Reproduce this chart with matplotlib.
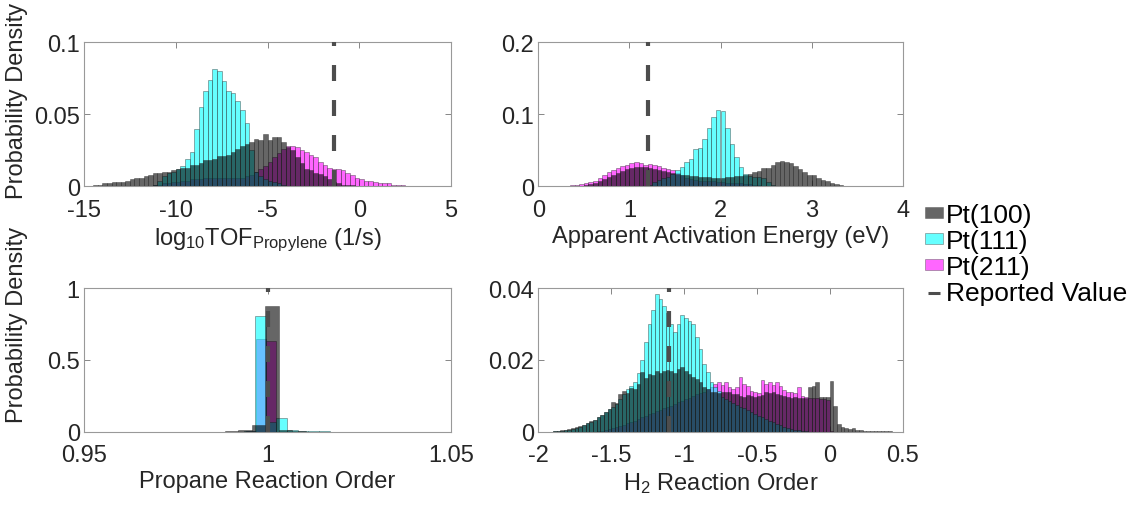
import numpy as np
import matplotlib
matplotlib.use("Agg")
import matplotlib.pyplot as plt
from matplotlib.patches import Patch
from matplotlib.lines import Line2D

# 字体
plt.rcParams["font.family"] = ["Liberation Sans", "DejaVu Sans"]
plt.rcParams["mathtext.fontset"] = "custom"
plt.rcParams["mathtext.rm"] = "Liberation Sans"
plt.rcParams["mathtext.default"] = "regular"
plt.rcParams["font.size"] = 17
plt.rcParams["lines.scale_dashes"] = False

labels = ["Pt(100)", "Pt(111)", "Pt(211)"]

# ---- log10 TOF (bin 0.25) ----
tof_width = 0.25
tof_pt100_start = -14.75
tof_pt100 = [0.0005, 0.001, 0.001, 0.002, 0.002, 0.003, 0.003, 0.003, 0.004, 0.005,
             0.006, 0.006, 0.007, 0.008, 0.009, 0.009, 0.010, 0.010, 0.011, 0.012,
             0.013, 0.013, 0.015, 0.015, 0.016, 0.018, 0.018, 0.019, 0.021, 0.021,
             0.022, 0.024, 0.026, 0.028, 0.029, 0.031, 0.033, 0.032, 0.036, 0.032,
             0.034, 0.034, 0.031, 0.027, 0.025, 0.020, 0.016, 0.012, 0.011, 0.0095,
             0.0087, 0.007, 0.005, 0.003, 0.002, 0.001, 0.0008, 0.0006, 0.0005, 0.0004,
             0.0003, 0.0003, 0.0002, 0.0002, 0.0002, 0.0001, 0.0001, 0.0001, 0.0001, 0.0001,
             0.0001, 0.0001, 0.0001, 0.0001]
tof_pt111_start = -11.25
tof_pt111 = [0.001, 0.004, 0.007, 0.009, 0.010, 0.012, 0.014, 0.019, 0.024, 0.040,
             0.055, 0.066, 0.074, 0.081, 0.080, 0.073, 0.066, 0.065, 0.059, 0.053,
             0.044, 0.025, 0.010, 0.007, 0.005, 0.004, 0.003, 0.002, 0.001]
tof_pt211_start = -11.25
tof_pt211 = [0.001, 0.001, 0.002, 0.002, 0.003, 0.003, 0.004, 0.004, 0.005, 0.005,
             0.005, 0.006, 0.006, 0.006, 0.006, 0.006, 0.006, 0.006, 0.006, 0.006,
             0.007, 0.008, 0.010, 0.012, 0.014, 0.017, 0.020, 0.023, 0.026, 0.028,
             0.028, 0.027, 0.025, 0.024, 0.022, 0.020, 0.017, 0.015, 0.013, 0.012,
             0.012, 0.011, 0.009, 0.008, 0.006, 0.005, 0.004, 0.004, 0.003, 0.002,
             0.002, 0.002, 0.001, 0.001, 0.001, 0.0005, 0.0003]
tof_reported = -1.4

# ---- Apparent activation energy (bin 0.05) ----
ea_width = 0.05
ea_pt100_start = 0.45
ea_pt100 = [0.001, 0.002, 0.003, 0.005, 0.007, 0.010, 0.013, 0.016, 0.019, 0.021,
            0.024, 0.026, 0.027, 0.027, 0.027, 0.026, 0.024, 0.023, 0.021, 0.020,
            0.018, 0.017, 0.016, 0.015, 0.014, 0.014, 0.013, 0.013, 0.013, 0.012,
            0.012, 0.012, 0.013, 0.013, 0.014, 0.014, 0.015, 0.017, 0.020, 0.021,
            0.025, 0.026, 0.030, 0.034, 0.035, 0.034, 0.032, 0.028, 0.024, 0.020,
            0.016, 0.015, 0.012, 0.009, 0.007, 0.005, 0.003, 0.002, 0.001, 0.001]
ea_pt111_start = 1.2
ea_pt111 = [0.002, 0.006, 0.009, 0.011, 0.013, 0.017, 0.022, 0.027, 0.033, 0.038,
            0.052, 0.053, 0.066, 0.081, 0.096, 0.106, 0.104, 0.081, 0.059, 0.041,
            0.027, 0.017, 0.014, 0.013, 0.013, 0.012, 0.006, 0.002, 0.001]
ea_pt211_start = 0.25
ea_pt211 = [0.0005, 0.001, 0.002, 0.002, 0.003, 0.004, 0.006, 0.008, 0.011, 0.015,
            0.020, 0.023, 0.026, 0.028, 0.030, 0.032, 0.033, 0.032, 0.030, 0.031,
            0.030, 0.028, 0.026, 0.024, 0.022, 0.018, 0.015, 0.012, 0.010, 0.009,
            0.008, 0.008, 0.007, 0.007, 0.006, 0.006, 0.005, 0.005, 0.004, 0.004,
            0.003, 0.003, 0.002, 0.002, 0.001]
ea_reported = 1.2

# ---- Propane reaction order (每个晶面的分箱不同) ----
c3_pt100_start, c3_pt100_width = 0.9883, 0.0037
c3_pt100 = [0.003, 0.010, 0.047, 0.879, 0.012, 0.002]
c3_pt111_start, c3_pt111_width = 0.9937, 0.0029
c3_pt111 = [0.004, 0.809, 0.070, 0.095, 0.012, 0.006, 0.003, 0.003, 0.001]
c3_pt211_start, c3_pt211_width = 0.9941, 0.0027
c3_pt211 = [0.005, 0.646, 0.635]
c3_reported = 1.0

# ---- H2 reaction order (bin 0.025) ----
h2_width = 0.025
h2_pt100_start = -1.9
h2_pt100 = [0.0002, 0.0003, 0.0004, 0.0005, 0.0007, 0.0009, 0.0012, 0.0015, 0.0019, 0.0023,
            0.0029, 0.0033, 0.0040, 0.0046, 0.0054, 0.0062, 0.0083, 0.0080, 0.0105, 0.0114,
            0.0108, 0.0123, 0.0118, 0.0132, 0.0166, 0.0150, 0.0160, 0.0158, 0.0170, 0.0163,
            0.0168, 0.0172, 0.0169, 0.0165, 0.0176, 0.0180, 0.0168, 0.0160, 0.0153, 0.0148,
            0.0140, 0.0125, 0.0118, 0.0112, 0.0110, 0.0108, 0.0112, 0.0110, 0.0111, 0.0104,
            0.0106, 0.0100, 0.0098, 0.0101, 0.0099, 0.0097, 0.0100, 0.0103, 0.0110, 0.0108,
            0.0110, 0.0104, 0.0102, 0.0099, 0.0097, 0.0095, 0.0096, 0.0094, 0.0095, 0.0093,
            0.0125, 0.0128, 0.0139, 0.0097, 0.0096, 0.0098, 0.0142, 0.0073, 0.0021, 0.0013,
            0.0010, 0.0008, 0.0009, 0.0006, 0.0004, 0.0003, 0.0003, 0.0002, 0.0002, 0.0001,
            0.0002, 0.0001, 0.0001]
h2_pt111_start = -1.9
h2_pt111 = [0.0001, 0.0002, 0.0003, 0.0004, 0.0006, 0.0008, 0.0011, 0.0014, 0.0018, 0.0023,
            0.0028, 0.0033, 0.0040, 0.0047, 0.0055, 0.0064, 0.0070, 0.0078, 0.0090, 0.0105,
            0.0118, 0.0128, 0.0140, 0.0165, 0.0200, 0.0250, 0.0300, 0.0340, 0.0384, 0.0370,
            0.0352, 0.0332, 0.0300, 0.0277, 0.0300, 0.0325, 0.0318, 0.0310, 0.0300, 0.0265,
            0.0230, 0.0190, 0.0166, 0.0140, 0.0125, 0.0114, 0.0098, 0.0092, 0.0086, 0.0080,
            0.0075, 0.0070, 0.0065, 0.0060, 0.0055, 0.0050, 0.0045, 0.0040, 0.0035, 0.0030,
            0.0026, 0.0022, 0.0018, 0.0014, 0.0011, 0.0008, 0.0006, 0.0004, 0.0003, 0.0002]
h2_pt211_start = -1.6
h2_pt211 = [0.0002, 0.0003, 0.0005, 0.0007, 0.0009, 0.0012, 0.0015, 0.0019, 0.0023, 0.0027,
            0.0031, 0.0035, 0.0040, 0.0044, 0.0048, 0.0053, 0.0057, 0.0061, 0.0065, 0.0069,
            0.0073, 0.0077, 0.0082, 0.0086, 0.0090, 0.0095, 0.0100, 0.0104, 0.0108, 0.0112,
            0.0118, 0.0124, 0.0133, 0.0138, 0.0130, 0.0139, 0.0125, 0.0120, 0.0124, 0.0152,
            0.0134, 0.0128, 0.0114, 0.0110, 0.0108, 0.0143, 0.0134, 0.0139, 0.0130, 0.0139,
            0.0128, 0.0116, 0.0112, 0.0110, 0.0108, 0.0124, 0.0100, 0.0098, 0.0095, 0.0094,
            0.0093, 0.0092, 0.0090, 0.0088, 0.0002]
h2_reported = -1.1

# 颜色 (MATLAB 风格, FaceAlpha=0.6)
face = {"Pt(100)": (0, 0, 0, 0.6), "Pt(111)": (0, 1, 1, 0.6), "Pt(211)": (1, 0, 1, 0.6)}
edge = (0.15, 0.15, 0.15, 0.6)
tick_color = (0.15, 0.15, 0.15)


def draw_hist(ax, start, width, heights, name, z):
    edges = start + width * np.arange(len(heights) + 1)
    ax.bar(edges[:-1], heights, width=width, align="edge",
           color=face[name], edgecolor=edge, linewidth=0.45, zorder=z)


def style_axes(ax, xlim, ylim, xticks, yticks, xlabel):
    ax.set_xlim(*xlim)
    ax.set_ylim(*ylim)
    ax.set_xticks(xticks)
    ax.set_yticks(yticks)
    ax.set_xticklabels([f"{t:g}" for t in xticks])
    ax.set_yticklabels([f"{t:g}" for t in yticks])
    ax.tick_params(direction="in", top=True, right=True, length=4, width=0.6,
                   color="0.45", labelcolor=tick_color, labelsize=17)
    ax.tick_params(axis="x", pad=9)
    ax.tick_params(axis="y", pad=3)
    for s in ax.spines.values():
        s.set_color("0.6")
        s.set_linewidth(0.8)
    ax.set_xlabel(xlabel, color=tick_color, fontsize=17)
    ax.xaxis.set_label_coords(0.5, -0.27)


def draw_reported(ax, x, ytop):
    ax.plot([x, x], [0, ytop], color="0.3", lw=3, dashes=(11.5, 13.7), zorder=6)


fig = plt.figure(figsize=(11.34, 5.06), dpi=100)
W, H = 1134, 506


def add_axes(x0, y0, x1, y1):
    return fig.add_axes([x0 / W, 1 - y1 / H, (x1 - x0) / W, (y1 - y0) / H])


ax1 = add_axes(84, 43, 451, 187.3)
ax2 = add_axes(538.3, 43, 902.7, 187.3)
ax3 = add_axes(84, 289.3, 451, 432.7)
ax4 = add_axes(538.3, 289.3, 902.7, 432.7)

# panel 1
draw_hist(ax1, tof_pt211_start, tof_width, tof_pt211, "Pt(211)", 2)
draw_hist(ax1, tof_pt111_start, tof_width, tof_pt111, "Pt(111)", 3)
draw_hist(ax1, tof_pt100_start, tof_width, tof_pt100, "Pt(100)", 4)
draw_reported(ax1, tof_reported, 0.1)
style_axes(ax1, (-15, 5), (0, 0.1), [-15, -10, -5, 0, 5], [0, 0.05, 0.1],
           r"log$_{10}$TOF$_{Propylene}$ (1/s)")

# panel 2
draw_hist(ax2, ea_pt211_start, ea_width, ea_pt211, "Pt(211)", 2)
draw_hist(ax2, ea_pt111_start, ea_width, ea_pt111, "Pt(111)", 3)
draw_hist(ax2, ea_pt100_start, ea_width, ea_pt100, "Pt(100)", 4)
draw_reported(ax2, ea_reported, 0.2)
style_axes(ax2, (0, 4), (0, 0.2), [0, 1, 2, 3, 4], [0, 0.1, 0.2],
           "Apparent Activation Energy (eV)")

# panel 3
draw_hist(ax3, c3_pt211_start, c3_pt211_width, c3_pt211, "Pt(211)", 2)
draw_hist(ax3, c3_pt111_start, c3_pt111_width, c3_pt111, "Pt(111)", 3)
draw_hist(ax3, c3_pt100_start, c3_pt100_width, c3_pt100, "Pt(100)", 4)
draw_reported(ax3, c3_reported, 1.0)
style_axes(ax3, (0.95, 1.05), (0, 1), [0.95, 1, 1.05], [0, 0.5, 1],
           "Propane Reaction Order")

# panel 4
draw_hist(ax4, h2_pt211_start, h2_width, h2_pt211, "Pt(211)", 2)
draw_hist(ax4, h2_pt111_start, h2_width, h2_pt111, "Pt(111)", 3)
draw_hist(ax4, h2_pt100_start, h2_width, h2_pt100, "Pt(100)", 4)
draw_reported(ax4, h2_reported, 0.04)
style_axes(ax4, (-2, 0.5), (0, 0.04), [-2, -1.5, -1, -0.5, 0, 0.5], [0, 0.02, 0.04],
           r"H$_2$ Reaction Order")

for ax, yc in [(ax1, 0.6), (ax3, 0.75)]:
    ax.set_ylabel("Probability Density", color=tick_color, fontsize=17)
    ax.yaxis.set_label_coords(-0.153, yc)

handles = [Patch(facecolor=face[n], edgecolor=(0.3, 0.3, 0.3, 0.6), linewidth=0.5) for n in labels]
handles.append(Line2D([], [], marker="_", markersize=8, markeredgewidth=2.2,
                      color="0.3", linestyle="none"))
fig.legend(handles, labels + ["Reported Value"], loc="upper left",
           bbox_to_anchor=(925 / W, 1 - 204 / H), frameon=False, fontsize=19,
           handlelength=0.7, handleheight=0.25, handletextpad=0.1,
           labelspacing=0.08, borderpad=0, borderaxespad=0)

fig.savefig("out.png", dpi=100)
